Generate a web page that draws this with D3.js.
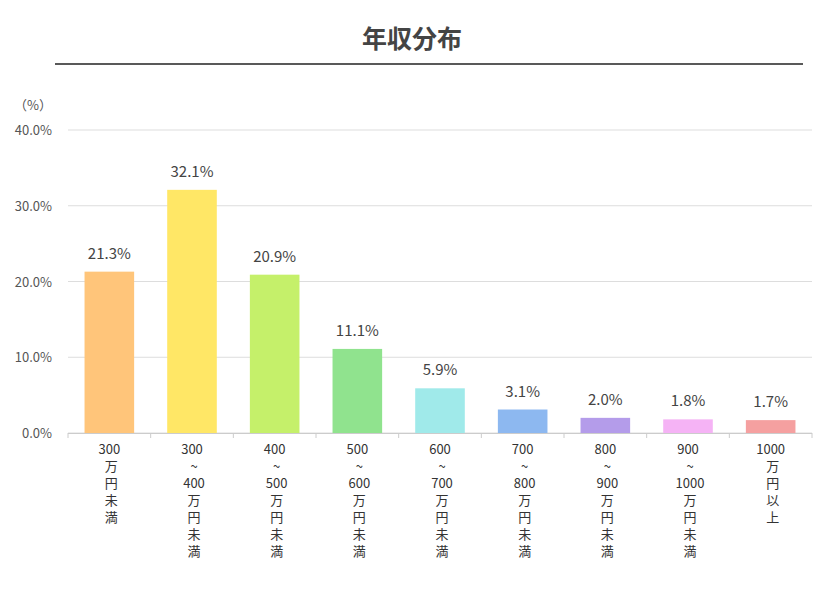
<!DOCTYPE html><html><head><meta charset="utf-8"><script src="https://cdn.jsdelivr.net/npm/d3@7"></script>
<style>body{margin:0;background:#fff}text{font-family:"Noto Sans CJK JP","Noto Sans",sans-serif}</style></head><body><svg width="837" height="603"></svg>
<script>
const categories=[["300","万","円","未","満"],["300","~","400","万","円","未","満"],["400","~","500","万","円","未","満"],["500","~","600","万","円","未","満"],["600","~","700","万","円","未","満"],["700","~","800","万","円","未","満"],["800","~","900","万","円","未","満"],["900","~","1000","万","円","未","満"],["1000","万","円","以","上"]];
const values=[21.3,32.1,20.9,11.1,5.9,3.1,2.0,1.8,1.7];
const colors=["#FFC57A","#FFE766","#C5F06A","#90E38E","#A0EAEA","#8DB8F0","#B49CEA","#F5B3F5","#F5A0A0"];
const yTicks=[0,10,20,30,40];
const svg=d3.select("svg");
svg.append("text").attr("x",412).attr("y",48).attr("text-anchor","middle").attr("font-size",25).attr("font-weight","bold").attr("fill","#444").text("年収分布");
svg.append("line").attr("x1",55).attr("x2",803).attr("y1",64).attr("y2",64).attr("stroke","#222").attr("stroke-width",1.5);
const x=d3.scaleBand().domain(d3.range(9)).range([68,812]).paddingInner(0.4).paddingOuter(0.2);
const y=d3.scaleLinear().domain([0,40]).range([433,130]);
svg.append("g").selectAll("line").data(yTicks).join("line").attr("x1",68).attr("x2",812).attr("y1",d=>y(d)).attr("y2",d=>y(d)).attr("stroke","#ddd");
svg.append("g").selectAll("text").data(yTicks).join("text").attr("x",52).attr("y",d=>y(d)+5).attr("text-anchor","end").attr("font-size",13).attr("fill","#555").text(d=>d.toFixed(1)+"%");
svg.append("text").attr("x",33).attr("y",110).attr("text-anchor","middle").attr("font-size",13).attr("fill","#555").text("（%）");
svg.selectAll("rect").data(values).join("rect").attr("x",(d,i)=>x(i)).attr("width",x.bandwidth()).attr("y",d=>y(d)).attr("height",d=>y(0)-y(d)).attr("fill",(d,i)=>colors[i]);
svg.append("g").selectAll("text").data(values).join("text").attr("x",(d,i)=>x(i)+x.bandwidth()/2).attr("y",d=>y(d)-13).attr("text-anchor","middle").attr("font-size",15).attr("fill","#444").text(d=>d.toFixed(1)+"%");
svg.append("line").attr("x1",68).attr("x2",812).attr("y1",433.5).attr("y2",433.5).attr("stroke","#ccc");
svg.append("g").selectAll("line").data(d3.range(10)).join("line").attr("x1",i=>68+i*744/9).attr("x2",i=>68+i*744/9).attr("y1",433).attr("y2",438).attr("stroke","#ccc");
const g=svg.append("g");
categories.forEach((c,i)=>{c.forEach((s,j)=>g.append("text").attr("text-anchor","middle").attr("font-size",13).attr("fill","#333")
  .attr("x",x(i)+x.bandwidth()/2+(j==0?0:2)).attr("y",454+j*17).text(s));});
</script></body></html>
